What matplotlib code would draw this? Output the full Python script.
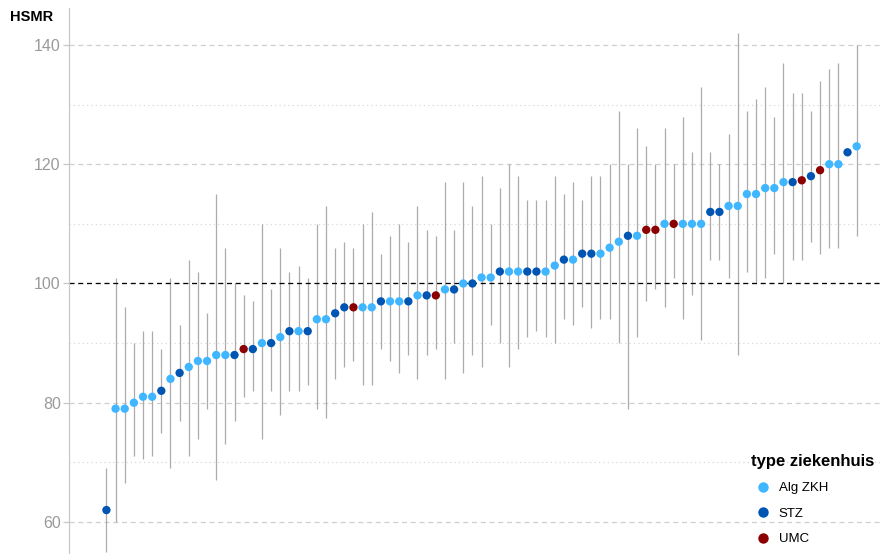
import numpy as np
import matplotlib
matplotlib.use("Agg")
import matplotlib.pyplot as plt
from matplotlib.lines import Line2D

plt.rcParams['font.family'] = ['Liberation Sans', 'DejaVu Sans']

# ---- data ----
hsmr = [62, 79, 79, 80, 81, 81, 82, 84, 85, 86, 87, 87, 88, 88, 88, 89, 89, 90, 90, 91,
        92, 92, 92, 94, 94, 95, 96, 96, 96, 96, 97, 97, 97, 97, 98, 98, 98, 99, 99, 100,
        100, 101, 101, 102, 102, 102, 102, 102, 102, 103, 104, 104, 105, 105, 105, 106, 107, 108, 108, 109,
        109, 110, 110, 110, 110, 110, 112, 112, 113, 113, 115, 115, 116, 116, 117, 117, 117.3, 118, 119, 120,
        120, 122, 123]
lower = [55, 60, 66.5, 71, 70.5, 71, 75, 69, 77, 71, 74, 79, 67, 73, 77, 81, 82, 74, 82, 78,
         82, 82, 83, 79, 77.5, 84, 86, 87, 83, 83, 89, 87, 85, 88, 84, 88, 89, 84, 90, 85,
         88, 86, 93, 90, 86, 89, 91, 92, 91, 90, 94, 93, 96, 92.5, 94, 94, 90, 79, 91, 97,
         99, 96, 101, 94, 98, 90.5, 104, 104, 101, 88, 102, 100, 101, 105, 100, 104, 104, 107, 105, 106,
         106, np.nan, 108]
upper = [69, 101, 96, 90, 92, 92, 89, 101, 93, 104, 102, 95, 115, 106, 100, 98, 97, 110, 99, 106,
         102, 103, 101, 110, 113, 106, 107, 106, 110, 112, 105, 108, 110, 107, 113, 109, 108, 117, 109, 117,
         113, 118, 110, 116, 120, 118, 114, 114, 114, 118, 115, 117, 114, 118, 118, 120, 129, 120, 126, 123,
         120, 126, 120, 128, 122, 133, 122, 120, 125, 142, 129, 131, 133, 128, 137, 132, 132, 129, 134, 136,
         137, np.nan, 140]
types = ['STZ', 'Alg ZKH', 'Alg ZKH', 'Alg ZKH', 'Alg ZKH', 'Alg ZKH', 'STZ', 'Alg ZKH', 'STZ', 'Alg ZKH',
         'Alg ZKH', 'Alg ZKH', 'Alg ZKH', 'Alg ZKH', 'STZ', 'UMC', 'STZ', 'Alg ZKH', 'STZ', 'Alg ZKH',
         'STZ', 'Alg ZKH', 'STZ', 'Alg ZKH', 'Alg ZKH', 'STZ', 'STZ', 'UMC', 'Alg ZKH', 'Alg ZKH',
         'STZ', 'Alg ZKH', 'Alg ZKH', 'STZ', 'Alg ZKH', 'STZ', 'UMC', 'Alg ZKH', 'STZ', 'Alg ZKH',
         'STZ', 'Alg ZKH', 'Alg ZKH', 'STZ', 'Alg ZKH', 'Alg ZKH', 'STZ', 'STZ', 'Alg ZKH', 'Alg ZKH',
         'STZ', 'Alg ZKH', 'STZ', 'STZ', 'Alg ZKH', 'Alg ZKH', 'Alg ZKH', 'STZ', 'Alg ZKH', 'UMC',
         'UMC', 'Alg ZKH', 'UMC', 'Alg ZKH', 'Alg ZKH', 'Alg ZKH', 'STZ', 'STZ', 'Alg ZKH', 'Alg ZKH',
         'Alg ZKH', 'Alg ZKH', 'Alg ZKH', 'Alg ZKH', 'Alg ZKH', 'STZ', 'UMC', 'STZ', 'UMC', 'Alg ZKH',
         'Alg ZKH', 'STZ', 'Alg ZKH']
categories = ['Alg ZKH', 'STZ', 'UMC']
colors = {'Alg ZKH': '#3FB6FF', 'STZ': '#0055B3', 'UMC': '#8B0000'}

y_major = [60, 80, 100, 120, 140]
y_minor = [70, 90, 110, 130]

# ---- figure ----
fig = plt.figure(figsize=(8.83, 5.54), dpi=100)
ax = fig.add_axes([69 / 883, 0, (880 - 69) / 883, (554 - 8) / 554])

x = np.arange(1, len(hsmr) + 1)
ax.set_xlim(-3.09, 85.55)
ax.set_ylim(54.63, 146.2)

for v in y_major:
    ax.axhline(v, color='#CFCFCF', lw=0.9, ls=(0, (4, 3)), zorder=0)
for v in y_minor:
    ax.axhline(v, color='#D8D8D8', lw=0.9, ls=(0, (1, 2.5)), zorder=0)

ax.vlines(x, lower, upper, color='#ABABAB', lw=0.9, zorder=1)
ax.axhline(100, color='black', lw=0.9, ls=(0, (4, 3)), zorder=2)

for cat in categories:
    idx = [i for i, t in enumerate(types) if t == cat]
    ax.scatter(x[idx], np.array(hsmr)[idx], s=36, color=colors[cat], zorder=3,
               edgecolors='none', label=cat)

for s in ['top', 'right', 'bottom']:
    ax.spines[s].set_visible(False)
ax.spines['left'].set_color('#C8C8C8')
ax.spines['left'].set_linewidth(0.9)
ax.set_xticks([])
ax.set_yticks(y_major)
ax.tick_params(axis='y', colors='#C8C8C8', length=4, width=0.9, labelcolor='#9A9A9A',
               labelsize=11.5, pad=2)

fig.text(10 / 883, 1 - 17 / 554, 'HSMR', fontsize=10.5, fontweight='bold', va='center', ha='left')

handles = [Line2D([], [], marker='o', ls='none', color=colors[c], markersize=7.5, markeredgewidth=0)
           for c in categories]
leg = fig.legend(handles, categories, title='type ziekenhuis', loc='upper left',
                 bbox_to_anchor=(751 / 883, 1 - 454 / 554), frameon=False,
                 fontsize=9.5, title_fontsize=12, alignment='left',
                 handlelength=1.8, handletextpad=0.3, labelspacing=1.0, borderaxespad=0,
                 borderpad=0)
leg.get_title().set_fontweight('bold')

fig.savefig('out.png', dpi=100)
